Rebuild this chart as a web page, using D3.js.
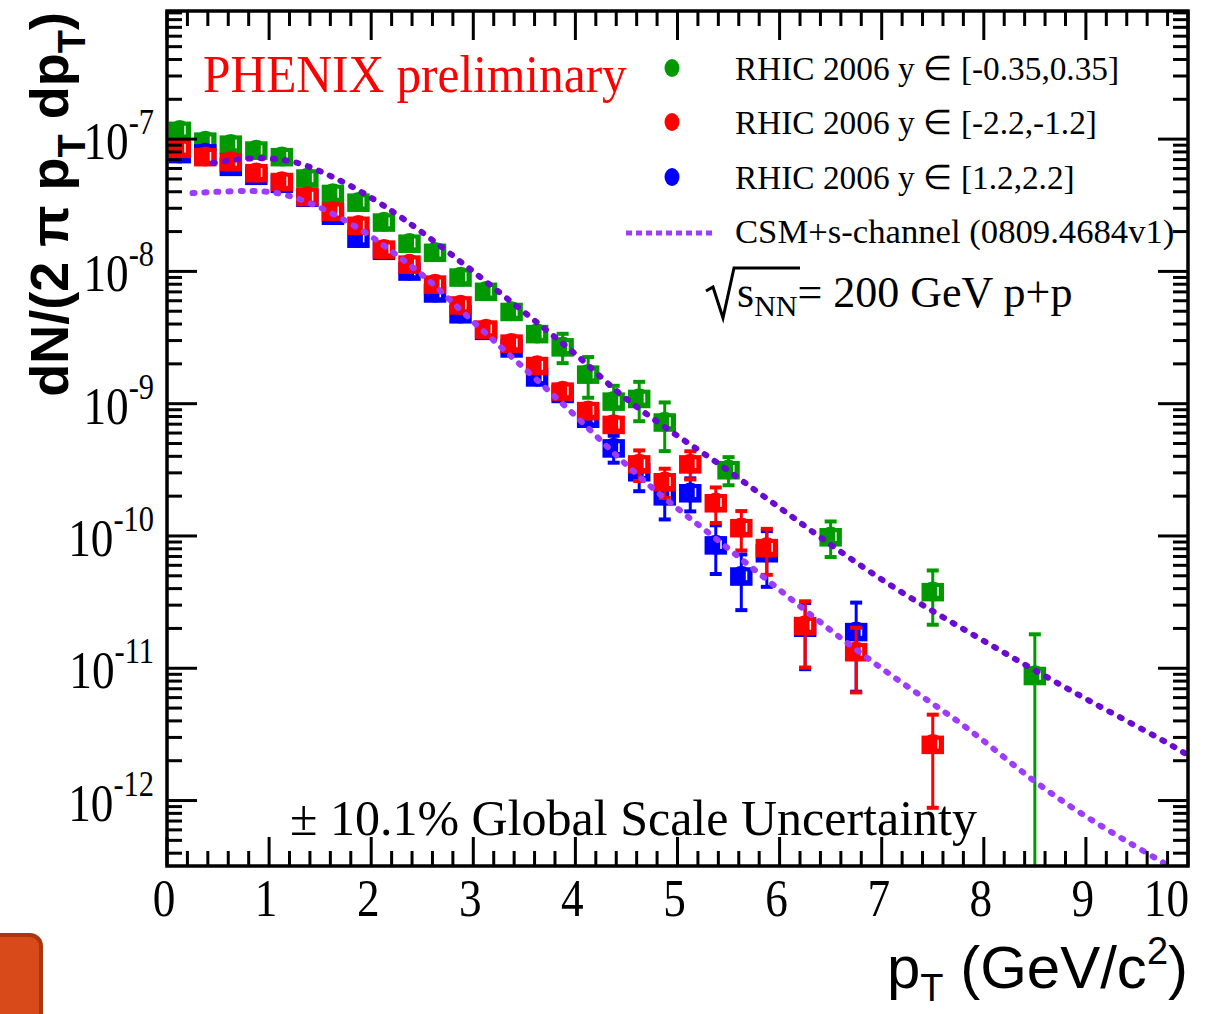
<!DOCTYPE html>
<html>
<head>
<meta charset="utf-8">
<script src="https://cdn.jsdelivr.net/npm/d3@7"></script>
<style>
body { margin: 0; background: #fff; }
svg { display: block; }
</style>
</head>
<body>
<svg id="chart" width="1222" height="1014"></svg>
<script>
// J/psi invariant yield vs pT, three rapidity ranges (stat. errors relative)
var ptMid = [0.125, 0.375, 0.625, 0.875, 1.125, 1.375, 1.625, 1.875, 2.125, 2.375,
             2.625, 2.875, 3.125, 3.375, 3.625, 3.875, 4.125, 4.375, 4.625, 4.875,
             5.5, 6.5, 7.5, 8.5];
var yieldMid = [1.17e-7, 9.7e-8, 9.2e-8, 8.3e-8, 7.4e-8, 5.1e-8, 3.9e-8, 3.35e-8, 2.37e-8, 1.64e-8,
                1.40e-8, 9.1e-9, 7.1e-9, 5.0e-9, 3.4e-9, 2.7e-9, 1.68e-9, 1.05e-9, 1.1e-9, 7.3e-10,
                3.18e-10, 9.9e-11, 3.81e-11, 8.85e-12];
var errMid = [0.03, 0.03, 0.03, 0.03, 0.03, 0.04, 0.04, 0.04, 0.05, 0.05,
              0.05, 0.06, 0.07, 0.09, 0.12, 0.25, 0.34, 0.30, 0.33, 0.40,
              0.24, 0.30, 0.44, 1.04];

var ptSouth = [0.125, 0.375, 0.625, 0.875, 1.125, 1.375, 1.625, 1.875, 2.125, 2.375,
               2.625, 2.875, 3.125, 3.375, 3.625, 3.875, 4.125, 4.375, 4.625, 4.875,
               5.125, 5.375, 5.625, 5.875, 6.25, 6.75, 7.5];
var yieldSouth = [8.55e-8, 7.4e-8, 6.8e-8, 5.6e-8, 4.8e-8, 3.7e-8, 2.86e-8, 2.24e-8, 1.48e-8, 1.14e-8,
                  8.05e-9, 5.6e-9, 3.68e-9, 2.88e-9, 1.95e-9, 1.25e-9, 8.9e-10, 7.0e-10, 3.52e-10, 2.58e-10,
                  3.52e-10, 1.79e-10, 1.16e-10, 8.2e-11, 2.11e-11, 1.34e-11, 2.67e-12];
var errSouth = [0.03, 0.03, 0.03, 0.03, 0.03, 0.03, 0.03, 0.04, 0.04, 0.04,
                0.05, 0.05, 0.06, 0.07, 0.08, 0.10, 0.10, 0.12, 0.26, 0.25,
                0.24, 0.30, 0.33, 0.38, 0.52, 0.51, 0.67];

var ptNorth = [0.125, 0.375, 0.625, 0.875, 1.125, 1.375, 1.625, 1.875, 2.125, 2.375,
               2.625, 2.875, 3.125, 3.375, 3.625, 3.875, 4.125, 4.375, 4.625, 4.875,
               5.125, 5.375, 5.625, 5.875, 6.25, 6.75];
var yieldNorth = [7.8e-8, 7.9e-8, 6.25e-8, 5.35e-8, 4.65e-8, 3.65e-8, 2.67e-8, 1.79e-8, 1.45e-8, 1.01e-8,
                  6.9e-9, 4.8e-9, 3.6e-9, 2.65e-9, 1.6e-9, 1.2e-9, 7.8e-10, 4.65e-10, 3.07e-10, 2.02e-10,
                  2.13e-10, 8.6e-11, 5.0e-11, 7.5e-11, 2.05e-11, 1.9e-11];
var errNorth = [0.03, 0.03, 0.03, 0.03, 0.03, 0.03, 0.03, 0.04, 0.04, 0.04,
                0.05, 0.05, 0.06, 0.07, 0.08, 0.10, 0.12, 0.23, 0.29, 0.34,
                0.28, 0.40, 0.45, 0.45, 0.52, 0.65];

// CSM + s-channel cut predictions (two curves)
var csmUpperPt = [0.45, 0.81, 1.14, 1.37, 1.63, 1.92, 2.31, 2.77, 3.26, 3.75, 4.07, 4.41,
                  4.73, 5.05, 5.39, 5.71, 6.03, 6.52, 7.18, 7.84, 8.48, 9.14, 9.79, 10.0];
var csmUpperVal = [6.6e-8, 7.3e-8, 7.06e-8, 6.37e-8, 5.16e-8, 3.98e-8, 2.54e-8, 1.38e-8, 6.9e-9, 3.44e-9, 2.15e-9, 1.21e-9,
                   7.98e-10, 5.35e-10, 3.6e-10, 2.36e-10, 1.58e-10, 8.3e-11, 3.75e-11, 1.9e-11, 9.8e-12, 5.1e-12, 2.77e-12, 2.2e-12];
var csmLowerPt = [0.25, 0.65, 0.98, 1.18, 1.47, 1.92, 2.25, 2.55, 2.84, 3.16, 3.43, 3.75, 4.07,
                  4.41, 4.73, 5.05, 5.39, 5.71, 6.03, 6.52, 7.18, 7.84, 8.48, 9.14, 9.79, 10.0];
var csmLowerVal = [3.91e-8, 4.06e-8, 4.06e-8, 3.78e-8, 3.18e-8, 2.06e-8, 1.33e-8, 8.9e-9, 5.4e-9, 3.2e-9, 2.07e-9, 1.23e-9, 7.2e-10,
                   3.98e-10, 2.37e-10, 1.5e-10, 9.4e-11, 5.9e-11, 3.75e-11, 1.87e-11, 7.8e-12, 3.65e-12, 1.38e-12, 6.4e-13, 3.3e-13, 2.6e-13];

var legendLabels = ["RHIC 2006 y \u2208 [-0.35,0.35]", "RHIC 2006 y \u2208 [-2.2,-1.2]", "RHIC 2006 y \u2208 [1.2,2.2]"];
var xTickLabels = ["0", "1", "2", "3", "4", "5", "6", "7", "8", "9", "10"];
var yExponents = ["-7", "-8", "-9", "-10", "-11", "-12"];

var SERIF = "'Liberation Serif', 'Times New Roman', serif";
var SANS = "'Liberation Sans', Arial, Helvetica, sans-serif";
var squeeze = 0.87;   // tick numbers are drawn a bit narrow
var sysFrac = 0.16;   // half-height of the systematic boxes
var boxHalf = 0.11;   // half-width of the boxes in pT

var svg = d3.select("#chart");

var x = d3.scaleLinear().domain([0, 10]).range([167, 1188]);
var y = d3.scaleLog().domain([3.2e-13, 9.3e-7]).range([866, 11]);

svg.append("defs").append("clipPath").attr("id", "frame")
    .append("rect")
    .attr("x", x(0)).attr("y", y.range()[1])
    .attr("width", x(10) - x(0)).attr("height", y.range()[0] - y.range()[1]);

var ylo = function(v) { return y(Math.max(v, y.domain()[0])); };

// ---- data points ----
var series = [
    { pt: ptMid, val: yieldMid, err: errMid, color: "#009a00" },
    { pt: ptNorth, val: yieldNorth, err: errNorth, color: "#0000ff" },
    { pt: ptSouth, val: yieldSouth, err: errSouth, color: "#ff0000" }
];

var plot = svg.append("g").attr("clip-path", "url(#frame)");

series.forEach(function(s) {
    var pts = s.pt.map(function(p, i) {
        return { pt: p, v: s.val[i], e: s.val[i] * s.err[i] };
    });
    var g = plot.append("g").attr("fill", s.color).attr("stroke", s.color);

    var bar = g.selectAll(".bar").data(pts).enter().append("g").attr("class", "bar");
    bar.append("line")
        .attr("x1", function(d) { return x(d.pt); })
        .attr("x2", function(d) { return x(d.pt); })
        .attr("y1", function(d) { return y(d.v + d.e); })
        .attr("y2", function(d) { return ylo(d.v - d.e); })
        .attr("stroke-width", 3);
    bar.append("line")
        .attr("x1", function(d) { return x(d.pt) - 6; })
        .attr("x2", function(d) { return x(d.pt) + 6; })
        .attr("y1", function(d) { return y(d.v + d.e); })
        .attr("y2", function(d) { return y(d.v + d.e); })
        .attr("stroke-width", 4);
    bar.filter(function(d) { return d.v - d.e > y.domain()[0]; }).append("line")
        .attr("x1", function(d) { return x(d.pt) - 6; })
        .attr("x2", function(d) { return x(d.pt) + 6; })
        .attr("y1", function(d) { return y(d.v - d.e); })
        .attr("y2", function(d) { return y(d.v - d.e); })
        .attr("stroke-width", 4);

    g.selectAll(".box").data(pts).enter().append("rect")
        .attr("class", "box")
        .attr("stroke", "none")
        .attr("x", function(d) { return x(d.pt - boxHalf); })
        .attr("width", function(d) { return x(d.pt + boxHalf) - x(d.pt - boxHalf); })
        .attr("y", function(d) { return y(d.v * (1 + sysFrac)); })
        .attr("height", function(d) { return y(d.v * (1 - sysFrac)) - y(d.v * (1 + sysFrac)); });

    g.selectAll(".dot").data(pts).enter().append("circle")
        .attr("class", "dot")
        .attr("stroke", "none")
        .attr("cx", function(d) { return x(d.pt); })
        .attr("cy", function(d) { return y(d.v); })
        .attr("r", 10);

    // thin white seam the open boxes leave inside the fill
    g.selectAll(".seam").data(pts).enter().append("line")
        .attr("class", "seam")
        .attr("stroke", "#fff").attr("stroke-width", 1.5)
        .attr("x1", function(d) { return x(d.pt + boxHalf) - 6; })
        .attr("x2", function(d) { return x(d.pt + boxHalf) - 6; })
        .attr("y1", function(d) { return y(d.v * 1.08); })
        .attr("y2", function(d) { return y(d.v / 1.08); });
});

// ---- theory curves ----
var line = d3.line()
    .x(function(d) { return x(d[0]); })
    .y(function(d) { return y(d[1]); })
    .curve(d3.curveBasis);

plot.append("path")
    .datum(d3.zip(csmUpperPt, csmUpperVal))
    .attr("d", line)
    .attr("fill", "none").attr("stroke", "#6a0ad2")
    .attr("stroke-width", 6).attr("stroke-linecap", "round")
    .attr("stroke-dasharray", "2,10");

plot.append("path")
    .datum(d3.zip(csmLowerPt, csmLowerVal))
    .attr("d", line)
    .attr("fill", "none").attr("stroke", "#9d3cff")
    .attr("stroke-width", 6).attr("stroke-linecap", "round")
    .attr("stroke-dasharray", "2,10");

// ---- frame and ticks ----
var ticks = svg.append("g").attr("stroke", "#000").attr("stroke-width", 3);

var xMinor = d3.range(0, 10.001, 0.2);
var isWhole = function(d) { return Math.abs(d - Math.round(d)) < 1e-6; };
ticks.selectAll(".xt").data(xMinor).enter().append("line")
    .attr("class", "xt")
    .attr("x1", function(d) { return x(d); })
    .attr("x2", function(d) { return x(d); })
    .attr("y1", y.range()[0])
    .attr("y2", function(d) { return y.range()[0] - (isWhole(d) ? 29 : 15); });
ticks.selectAll(".xtt").data(xMinor).enter().append("line")
    .attr("class", "xtt")
    .attr("x1", function(d) { return x(d); })
    .attr("x2", function(d) { return x(d); })
    .attr("y1", y.range()[1])
    .attr("y2", function(d) { return y.range()[1] + (isWhole(d) ? 29 : 15); });

var yTicks = y.ticks().filter(function(d) { return d >= y.domain()[0] && d <= y.domain()[1]; });
var isDecade = function(d) { return isWhole(Math.log10(d)); };
ticks.selectAll(".yt").data(yTicks).enter().append("line")
    .attr("class", "yt")
    .attr("x1", x(0))
    .attr("x2", function(d) { return x(0) + (isDecade(d) ? 30 : 15); })
    .attr("y1", function(d) { return y(d); })
    .attr("y2", function(d) { return y(d); });
ticks.selectAll(".ytr").data(yTicks).enter().append("line")
    .attr("class", "ytr")
    .attr("x1", x(10))
    .attr("x2", function(d) { return x(10) - (isDecade(d) ? 30 : 15); })
    .attr("y1", function(d) { return y(d); })
    .attr("y2", function(d) { return y(d); });

svg.append("rect")
    .attr("x", x(0)).attr("y", y.range()[1])
    .attr("width", x(10) - x(0)).attr("height", y.range()[0] - y.range()[1])
    .attr("fill", "none").attr("stroke", "#000").attr("stroke-width", 3.5);

// ---- text helpers ----
var text = function(px, py, sx, family, size) {
    return svg.append("text")
        .attr("transform", "translate(" + px + "," + py + ") scale(" + sx + ",1)")
        .attr("font-family", family)
        .attr("font-size", size)
        .attr("fill", "#000");
};

// x tick labels (the last one is kept inside the frame edge)
xTickLabels.forEach(function(lbl, i) {
    var last = i === xTickLabels.length - 1;
    text(last ? x(i) + 1 : x(i) - 3, 916, squeeze, SERIF, 52)
        .attr("text-anchor", last ? "end" : "middle").text(lbl);
});

// y tick labels
yExponents.forEach(function(ex) {
    var t = text(154, y(Math.pow(10, +ex)) + 20, squeeze, SERIF, 52).attr("text-anchor", "end");
    t.append("tspan").text("10");
    t.append("tspan").attr("dy", -25).attr("font-size", 35).text(ex);
});

// axis titles
var yt = svg.append("text")
    .attr("transform", "translate(68,12) rotate(-90)")
    .attr("text-anchor", "end")
    .attr("font-family", SANS).attr("font-weight", "bold").attr("font-size", 54);
yt.append("tspan").text("dN/(2 \u03c0 p");
yt.append("tspan").attr("dy", 17).attr("font-size", 38).text("T");
yt.append("tspan").attr("dy", -17).text(" dp");
yt.append("tspan").attr("dy", 17).attr("font-size", 38).text("T");
yt.append("tspan").attr("dy", -17).text(")");

var xt = svg.append("text")
    .attr("x", 1188).attr("y", 988)
    .attr("text-anchor", "end")
    .attr("font-family", SANS).attr("font-size", 60);
xt.append("tspan").text("p");
xt.append("tspan").attr("dy", 13).attr("font-size", 38).text("T");
xt.append("tspan").attr("dy", -13).text(" (GeV/c");
xt.append("tspan").attr("dy", -24).attr("font-size", 38).text("2");
xt.append("tspan").attr("dy", 24).text(")");

// labels inside the frame
text(203, 92, 0.95, SERIF, 52).attr("fill", "#ff0000").text("PHENIX preliminary");

var legendY = [68, 122, 177];
var legendColors = ["#009a00", "#ff0000", "#0000ff"];
legendLabels.forEach(function(lbl, i) {
    svg.append("ellipse")
        .attr("cx", 672).attr("cy", legendY[i])
        .attr("rx", 7.5).attr("ry", 9)
        .attr("fill", legendColors[i]);
    text(735, legendY[i] + 12, 0.98, SERIF, 34).text(lbl);
});
svg.append("line")
    .attr("x1", 626).attr("x2", 716).attr("y1", 233).attr("y2", 233)
    .attr("stroke", "#9d3cff").attr("stroke-width", 5).attr("stroke-dasharray", "6,4");
text(735, 243, 1.02, SERIF, 34).text("CSM+s-channel (0809.4684v1)");

// sqrt(s_NN) = 200 GeV p+p
svg.append("path")
    .attr("d", "M706,291 L713,287 L723,318 L734,268 L800,268")
    .attr("fill", "none").attr("stroke", "#000").attr("stroke-width", 3);
var sq = text(737, 307, 1.0, SERIF, 44);
sq.append("tspan").text("s");
sq.append("tspan").attr("dy", 9).attr("font-size", 30).text("NN");
sq.append("tspan").attr("dy", -9).text("= 200 GeV p+p");

text(290, 835, 1.0, SERIF, 50).text("\u00b1 10.1% Global Scale Uncertainty");

// corner of the slide button
svg.append("rect")
    .attr("x", -30).attr("y", 935).attr("width", 71).attr("height", 110)
    .attr("rx", 11)
    .attr("fill", "#d84a1a").attr("stroke", "#a8360f").attr("stroke-width", 4);
</script>
</body>
</html>
